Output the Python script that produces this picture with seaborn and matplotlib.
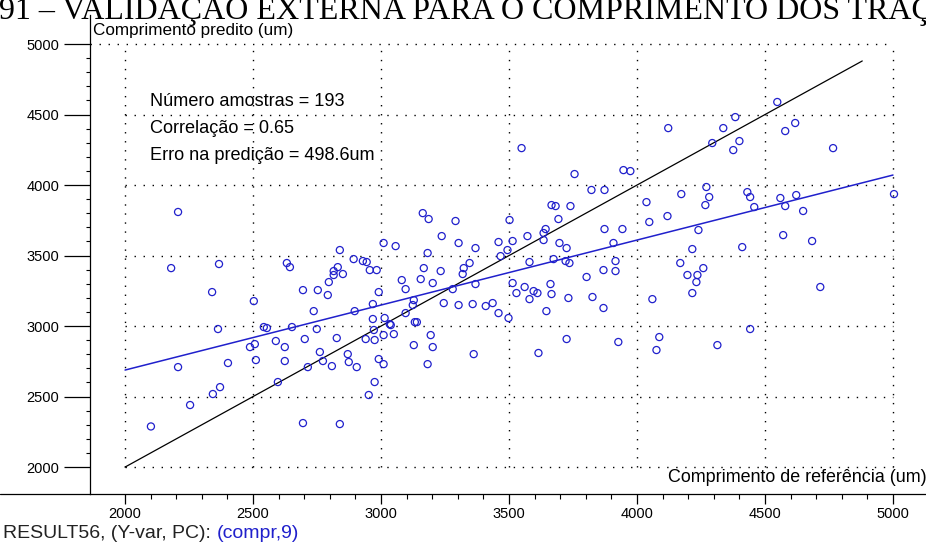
import numpy as np
import pandas as pd
import matplotlib
matplotlib.use("Agg")
import matplotlib.pyplot as plt
import seaborn as sns
from matplotlib.lines import Line2D
from matplotlib.ticker import FixedLocator

# ---------------- data ----------------
ref_x = [2101, 2207, 2180, 2367, 2340, 2363, 2207, 2402, 2371, 2343, 2254,
         2503, 2542, 2554, 2652, 2749, 2737, 2897, 2968, 2968, 3014, 2972,
         2975, 3010, 3034, 2488, 2507, 2511, 2589, 2624, 2624, 2702, 2714,
         2761, 2773, 2808, 2827, 2870, 2874, 2905, 2940, 2991, 3010, 2975,
         2952, 2597, 2695, 2839,
         3010, 2839, 2632, 2644, 2893, 2929, 2944, 2831, 2815, 2815, 2851,
         2956, 2983, 2796, 2695, 2753, 2792, 2991,
         3163, 3186, 3237, 3057, 3182, 3167, 3233, 3081, 3155, 3202, 3096,
         3128, 3124, 3245, 3096, 3132, 3140, 3038, 3050, 3194, 3128, 3202,
         3182,
         3549, 3756, 3947, 3974, 3822, 3873, 4037, 3666, 3682, 3740, 4048,
         3291, 3502, 3693, 3643, 3635, 3635, 3873, 3943, 3572, 3303, 3369,
         3459, 3514, 3494, 3467, 3697, 3725, 3908, 3580, 3674, 3721, 3736,
         3916, 3869, 3916, 3346, 3323, 3319, 3803, 3369, 3280, 3514, 3561,
         3529, 3596, 3611, 3580, 3662, 3666, 3732, 3826, 4060, 3303, 3358,
         3409, 3436, 3459, 3498, 3646, 3869, 3725, 3927, 3362, 3615, 4076,
         4087,
         4548, 4384, 4122, 4337, 4618, 4579, 4294, 4400, 4376, 4766, 4271,
         4173, 4282, 4267, 4431, 4442, 4458, 4560, 4622, 4579, 4649, 5004,
         4119, 4240, 4571, 4684, 4411, 4216, 4169, 4259, 4197, 4236, 4232,
         4216, 4716, 4314, 4442]
pred_y = [2288, 3809, 3411, 3440, 3241, 2979, 2709, 2738, 2567, 2518, 2440,
          3177, 2993, 2986, 2993, 2979, 3106, 3106, 3156, 3050, 3057, 2972,
          2901, 2936, 3014, 2851, 2872, 2759, 2894, 2851, 2752, 2908, 2709,
          2816, 2752, 2716, 2915, 2801, 2745, 2709, 2908, 2766, 2730, 2603,
          2511, 2603, 2312, 2305,
          3589, 3539, 3447, 3418, 3475, 3461, 3454, 3418, 3390, 3362, 3369,
          3397, 3397, 3312, 3255, 3255, 3220, 3241,
          3801, 3759, 3638, 3567, 3518, 3411, 3390, 3326, 3333, 3305, 3262,
          3184, 3149, 3163, 3092, 3028, 3028, 3007, 2943, 2936, 2865, 2851,
          2730,
          4262, 4078, 4106, 4099, 3965, 3965, 3879, 3858, 3851, 3851, 3738,
          3745, 3752, 3759, 3688, 3660, 3610, 3688, 3688, 3638, 3589, 3553,
          3596, 3603, 3539, 3496, 3589, 3553, 3589, 3454, 3475, 3461, 3447,
          3461, 3397, 3390, 3447, 3411, 3369, 3348, 3298, 3262, 3305, 3277,
          3234, 3248, 3234, 3191, 3298, 3227, 3199, 3206, 3191, 3149, 3156,
          3142, 3163, 3092, 3057, 3106, 3128, 2908, 2887, 2801, 2809, 2830,
          2922,
          4589, 4482, 4404, 4404, 4440, 4383, 4298, 4312, 4248, 4262, 3986,
          3936, 3915, 3858, 3950, 3915, 3844, 3908, 3929, 3851, 3816, 3936,
          3780, 3681, 3645, 3603, 3560, 3546, 3447, 3411, 3362, 3362, 3312,
          3234, 3277, 2865, 2979]

ident_x = [2000, 4880]
ident_y = [2000, 4880]
fit_x = [2000, 5000]
fit_y = [2688, 4071]

x_ticks = [2000, 2500, 3000, 3500, 4000, 4500, 5000]
y_ticks = [2000, 2500, 3000, 3500, 4000, 4500, 5000]
minor_ticks = list(range(2000, 5001, 100))

title_text = "91 – VALIDAÇÃO EXTERNA PARA O COMPRIMENTO DOS TRAÇOS"
y_label = "Comprimento predito (um)"
x_label = "Comprimento de referência (um)"
stats_lines = ["Número amostras = 193", "Correlação = 0.65",
               "Erro na predição = 498.6um"]
footer_a = "RESULT56, (Y-var, PC): "
footer_b = "(compr,9)"

# ---------------- drawing ----------------
sns.set_theme(style="white")
plt.rcParams["font.family"] = ["Liberation Sans", "DejaVu Sans"]

BLUE = "#2020cc"
W, H = 926, 544
fig = plt.figure(figsize=(W / 100, H / 100), dpi=100)
ax = fig.add_axes([90 / W, 50 / H, (W - 90) / W, (494 - 15) / H])
ax.set_xlim(1863, 5129)
ax.set_ylim(1809, 5206)

dots = (0, (1, 5.5))
ax.hlines(y_ticks[:-1], x_ticks[0], x_ticks[-1], colors="black",
          linestyles=dots, lw=1, zorder=1)
ax.hlines([y_ticks[-1]], 1863, x_ticks[-1], colors="black",
          linestyles=dots, lw=1, zorder=1)
ax.vlines(x_ticks, y_ticks[0], y_ticks[-1], colors="black",
          linestyles=dots, lw=1, zorder=1)

sns.lineplot(x=ident_x, y=ident_y, color="black", lw=0.9, ax=ax, zorder=2)
sns.lineplot(x=fit_x, y=fit_y, color=BLUE, lw=1.1, ax=ax, zorder=2)

n_before = len(ax.collections)
df = pd.DataFrame({"ref": ref_x, "pred": pred_y})
sns.scatterplot(data=df, x="ref", y="pred", ax=ax, marker="o", s=26,
                linewidth=0.9, zorder=3, legend=False)
for c in ax.collections[n_before:]:
    c.set_facecolor("none")
    c.set_edgecolor(BLUE)

ax.set_xlabel("")
ax.set_ylabel("")
for s in ["top", "right"]:
    ax.spines[s].set_visible(False)
for s in ["left", "bottom"]:
    ax.spines[s].set_color("black")
    ax.spines[s].set_linewidth(0.9)
fig.add_artist(Line2D([0, 90 / W], [50 / H, 50 / H], transform=fig.transFigure,
                      color="black", lw=0.9))

ax.set_xticks(x_ticks)
ax.set_yticks(y_ticks)
ax.xaxis.set_minor_locator(FixedLocator(minor_ticks))
ax.yaxis.set_minor_locator(FixedLocator(minor_ticks))
ax.tick_params(axis="y", which="major", length=19, width=0.9, color="black",
               direction="out", pad=3, labelsize=10.5, labelcolor="black", left=True)
ax.tick_params(axis="y", which="minor", length=3, width=0.8, color="black",
               direction="out", left=True)
ax.tick_params(axis="x", which="major", length=7, width=0.9, color="black",
               direction="out", pad=2, labelsize=10.5, labelcolor="black", bottom=True)
ax.tick_params(axis="x", which="minor", length=3.5, width=0.8, color="black",
               direction="out", bottom=True)

def fy(py):
    return 1 - py / H

fig.text(-1 / W, fy(19), title_text, family=["Liberation Serif", "DejaVu Serif"],
         fontsize=23, va="baseline", ha="left", color="black")
fig.text(93 / W, fy(31), y_label, fontsize=12.3, va="center", ha="left", color="black")
for i, line in enumerate(stats_lines):
    fig.text(150 / W, fy(102 + 27 * i), line, fontsize=13.1, va="center",
             ha="left", color="black")
fig.text(668 / W, fy(478), x_label, fontsize=12.9, va="center", ha="left", color="black")

ta = fig.text(3 / W, fy(534), footer_a, fontsize=14, va="center", ha="left",
              color="#222222")
fig.canvas.draw()
bb = ta.get_window_extent()
fig.text(bb.x1 / W, fy(534), footer_b, fontsize=14, va="center", ha="left",
         color=BLUE)

fig.savefig("out.png", dpi=100)
